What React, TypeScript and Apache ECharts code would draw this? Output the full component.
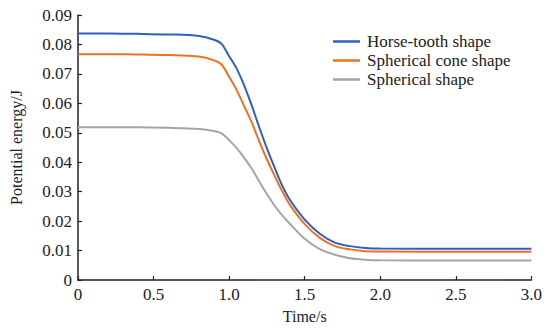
import React, { useEffect, useRef } from "react";
import * as echarts from "echarts";

// Sample times (s)
const times = [0, 0.2, 0.4, 0.6, 0.8, 0.9, 0.95, 1.0, 1.05, 1.1, 1.15, 1.2, 1.25, 1.3, 1.35, 1.4, 1.5, 1.6, 1.7, 1.8, 1.9, 2.0, 2.5, 3.0];

// Potential energy (J) for each indenter shape
const horseTooth = [0.0837, 0.0837, 0.0836, 0.0834, 0.0829, 0.0816, 0.0802, 0.0760, 0.0718, 0.0660, 0.0592, 0.0518, 0.0447, 0.0383, 0.0322, 0.0274, 0.0205, 0.0157, 0.0127, 0.0115, 0.0109, 0.0107, 0.0106, 0.0106];
const sphericalCone = [0.0767, 0.0767, 0.0766, 0.0764, 0.0759, 0.0746, 0.0732, 0.0690, 0.0645, 0.0590, 0.0535, 0.0470, 0.0410, 0.0355, 0.0303, 0.0257, 0.0190, 0.0143, 0.0115, 0.0104, 0.0098, 0.0097, 0.0096, 0.0096];
const spherical = [0.0519, 0.0519, 0.0519, 0.0517, 0.0513, 0.0506, 0.0498, 0.0475, 0.0448, 0.0415, 0.0378, 0.0334, 0.0292, 0.0253, 0.0220, 0.0192, 0.0140, 0.0105, 0.0086, 0.0074, 0.0069, 0.0067, 0.0066, 0.0066];

const seriesNames = ["Horse-tooth shape", "Spherical cone shape", "Spherical shape"];
const seriesValues = [horseTooth, sphericalCone, spherical];
const colors = ["#2f5fc2", "#ef7022", "#a5a5a5"];

const FONT = "Times New Roman, Liberation Serif, DejaVu Serif, serif";

export default function App() {
  const ref = useRef<HTMLDivElement>(null);

  useEffect(() => {
    if (!ref.current) return;
    const chart = echarts.init(ref.current, undefined, { renderer: "svg" });
    chart.setOption({
      animation: false,
      backgroundColor: "#ffffff",
      textStyle: { fontFamily: FONT },
      grid: { left: 76, right: 12, top: 15, bottom: 49, containLabel: false },
      legend: {
        orient: "vertical",
        left: 328,
        top: 28,
        itemGap: 2,
        itemWidth: 27,
        itemHeight: 2.5,
        icon: "rect",
        data: seriesNames,
        textStyle: { fontFamily: FONT, fontSize: 17, color: "#222", padding: [0, 0, 0, 2] },
      },
      xAxis: {
        type: "value",
        min: 0,
        max: 3,
        interval: 0.5,
        name: "Time/s",
        nameLocation: "middle",
        nameGap: 28,
        nameTextStyle: { fontFamily: FONT, fontSize: 16, color: "#222" },
        axisLine: { lineStyle: { color: "#222", width: 1.5 } },
        axisTick: { inside: true, length: 4, lineStyle: { color: "#222", width: 1.2 } },
        axisLabel: {
          fontFamily: FONT,
          fontSize: 17,
          color: "#222",
          margin: 6,
          formatter: (v: number) => (v === 0 ? "0" : v.toFixed(1)),
        },
        splitLine: { show: false },
      },
      yAxis: {
        type: "value",
        min: 0,
        max: 0.09,
        interval: 0.01,
        name: "Potential energy/J",
        nameLocation: "middle",
        nameGap: 54,
        nameTextStyle: { fontFamily: FONT, fontSize: 16, color: "#222" },
        axisLine: { show: true, lineStyle: { color: "#222", width: 1.5 } },
        axisTick: { show: true, inside: true, length: 4, lineStyle: { color: "#222", width: 1.2 } },
        axisLabel: {
          fontFamily: FONT,
          fontSize: 17,
          color: "#222",
          margin: 6,
          formatter: (v: number) => (v === 0 ? "0" : v.toFixed(2)),
        },
        splitLine: { show: false },
      },
      series: seriesNames.map((name, i) => ({
        name,
        type: "line",
        data: times.map((t, j) => [t, seriesValues[i][j]]),
        symbol: "none",
        smooth: 0.3,
        lineStyle: { color: colors[i], width: 2 },
        itemStyle: { color: colors[i] },
      })),
    });
    return () => chart.dispose();
  }, []);

  return <div ref={ref} style={{ width: 545, height: 329, position: "absolute", left: 0, top: 0 }} />;
}
